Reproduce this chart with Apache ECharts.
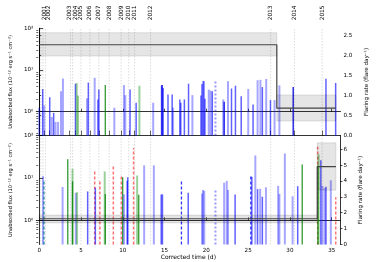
<!DOCTYPE html>
<html><head><meta charset="utf-8">
<script src="https://cdn.jsdelivr.net/npm/echarts@6/dist/echarts.min.js"></script>
<style>html,body{margin:0;padding:0;background:#fff}#c{width:381px;height:262px}</style>
</head><body><div id="c"></div>
<script>
// ---------- data ----------
const yearLabels = ['2000','2001','2002','2003','2004','2005','2006','2007','2008','2009','2010','2011','2012','2013','2014','2015'];
const yearLabelTimes = [0.11,0.61,1.15,3.65,4.34,4.99,6.07,7.14,8.37,9.80,10.72,11.41,13.33,27.70,30.55,33.85];
const yearLineTimes = [0.19,0.45,0.75,3.75,4.0,4.99,6.07,7.14,8.37,9.80,10.72,11.41,13.33,27.70,30.55,33.85];

const topTime = [0.00,0.42,0.61,1.26,1.50,1.73,1.96,2.26,2.61,2.84,4.34,4.49,4.65,5.72,5.88,6.64,7.03,7.14,7.91,8.99,10.14,10.30,10.87,11.60,11.99,13.64,14.64,14.71,14.83,15.41,15.91,16.02,16.83,16.94,17.37,17.87,18.33,19.36,19.48,19.60,19.71,19.83,20.29,20.52,20.71,21.09,22.02,22.13,22.59,23.01,23.48,24.17,25.01,25.59,26.13,26.47,26.70,27.16,27.67,28.16,28.74,30.39,34.31,35.47];
const topFlux = [1.25,3.5,1.42,2.23,0.75,0.94,0.57,0.57,3.1,6.25,4.7,4.85,2.44,2.1,5.0,6.5,1.97,3.4,4.35,1.25,4.35,2.5,3.4,1.64,4.2,1.64,4.28,4.4,3.7,2.6,2.6,1.25,1.97,1.64,1.97,4.7,2.5,2.44,4.6,5.5,5.4,2.04,3.4,3.2,3.1,5.8,1.97,1.73,5.4,3.6,4.2,2.36,3.5,1.5,5.7,5.8,3.9,6.1,1.9,1.9,4.3,3.9,6.2,4.9];
const topStyle = ['l','m','l','m','l','m','l','l','l','l','m','g','g','l','m','l','m','m','G','l','l','l','m','m','g','l','m','d','m','m','m','l','m','m','m','m','l','m','m','l','m','m','l','l','m','lbd','l','d','l','m','m','m','l','m','l','l','m','l','m','l','l','d','m','m'];

const botTime = [0.46,0.57,2.80,3.42,3.99,3.99,4.38,4.53,5.80,6.64,6.72,7.26,7.84,7.91,8.87,9.83,9.99,10.14,10.53,10.60,11.29,11.72,11.91,12.56,13.72,14.60,14.75,17.02,17.83,19.48,19.60,19.75,21.09,22.13,22.44,22.59,23.44,25.32,25.44,25.86,26.13,26.44,26.70,27.13,28.59,28.74,29.39,30.32,30.93,31.47,33.32,33.35,33.43,33.70,33.89,34.16,34.31,34.89,35.48];
const botFlux = [11,9.1,6.1,27.5,16.4,8.3,4.45,4.6,4.8,14.7,5.9,8.8,14.2,4.2,19.8,11.2,10.4,4.1,8.6,10.4,50.6,11.4,4.0,19.8,19.8,4.05,4.1,8.5,4.45,4.3,5.2,4.96,5.65,7.7,8.5,5.2,4.05,12.0,10.6,33.8,5.45,5.55,3.6,6.0,6.5,4.2,37.7,3.7,6.4,20.8,54,19.7,36,26,6.5,5.8,6.2,8.8,3.5];
const botStyle = ['l','td','l','G','g','G','l','g','m','r','m','r','g','G','r','r','G','l','m','m','r','g','G','l','l','m','m','bd','m','l','l','l','lbd','l','l','l','m','bd','m','l','m','l','m','l','l','l','l','l','m','G','r','G','g','m','l','l','m','l','r'];

const topRateTime = [0, 28.43, 28.43, 35.5];
const topRate = [2.26, 2.26, 0.68, 0.68];
const topBandStart = [0, 28.43], topBandEnd = [28.43, 35.5];
const topBandLow = [1.98, 0.36], topBandHigh = [2.56, 1.01];

const botRateTime = [0, 33.27, 33.27, 35.5];
const botRate = [1.62, 1.62, 4.9, 4.9];
const botBandStart = [0, 33.27], botBandEnd = [33.27, 35.5];
const botBandLow = [1.36, 3.42], botBandHigh = [1.85, 6.4];

const timeTicks = [0,5,10,15,20,25,30,35];
const fluxTickExp = [0,1,2];
const fluxTickLabels = ['10\u2070','10\u00b9','10\u00b2'];
const topRateTicks = [0,0.5,1.0,1.5,2.0,2.5];
const botRateTicks = [0,1,2,3,4,5,6];

// ---------- config ----------
const X_MIN = -0.35, X_MAX = 36.05;
const LOG_MIN = -0.57, LOG_MAX = 2.0;
const FONT = 'DejaVu Sans';
const STYLES = {
  l:{stroke:'rgba(0,0,255,0.35)',lineWidth:2},
  m:{stroke:'rgba(0,0,255,0.62)',lineWidth:1.5},
  d:{stroke:'rgba(0,0,230,0.95)',lineWidth:1.3},
  g:{stroke:'rgba(0,140,0,0.4)',lineWidth:2},
  G:{stroke:'rgba(0,128,0,0.8)',lineWidth:1.3},
  r:{stroke:'rgba(255,0,0,0.55)',lineWidth:1.5,lineDash:[3,2]},
  bd:{stroke:'rgba(0,0,255,0.8)',lineWidth:1.3,lineDash:[3,2]},
  lbd:{stroke:'rgba(0,0,255,0.4)',lineWidth:2,lineDash:[2,2]},
  td:{stroke:'rgba(0,120,150,0.85)',lineWidth:1.3,lineDash:[3,2]}
};
const minorLog = [];
[-1,0,1].forEach(k=>{for(let m=2;m<=9;m++){const v=k+Math.log10(m); if(v>LOG_MIN&&v<LOG_MAX) minorLog.push(v);}});

function fluxRender(styles){
  return function(params, api){
    const x = api.value(0), v = api.value(1);
    const p0 = api.coord([x, LOG_MIN]);
    const p1 = api.coord([x, v]);
    return {type:'line', shape:{x1:p0[0],y1:p0[1],x2:p1[0],y2:p1[1]},
      style:Object.assign({fill:null}, STYLES[styles[params.dataIndex]])};
  };
}
function yearRender(params, api){
  const x = api.value(0);
  const p0 = api.coord([x, LOG_MIN]), p1 = api.coord([x, LOG_MAX]);
  return {type:'line', shape:{x1:p0[0],y1:p0[1],x2:p1[0],y2:p1[1]},
    style:{stroke:'rgba(0,0,0,0.18)',lineWidth:0.8,lineDash:[1.5,1.5],fill:null}};
}
function bandRender(params, api){
  const a = api.coord([api.value(0), api.value(3)]);
  const b = api.coord([api.value(1), api.value(2)]);
  return {type:'rect', shape:{x:a[0],y:a[1],width:b[0]-a[0],height:b[1]-a[1]},
    style:{fill:'rgba(0,0,0,0.1)',stroke:'rgba(0,0,0,0.18)',lineWidth:0.6}};
}
const axisLine = {show:true, lineStyle:{color:'#000', width:0.8}};
const lbl = {fontFamily:FONT, fontSize:5.6, color:'#000'};
const nameStyle = {fontFamily:FONT, fontSize:5.6, color:'#000'};

function fluxAxis(grid){
  return {type:'value', gridIndex:grid, position:'left', min:LOG_MIN, max:LOG_MAX,
    axisLine, splitLine:{show:false},
    axisTick:{show:true, inside:true, length:4, customValues:fluxTickExp, lineStyle:{color:'#000',width:0.7}},
    axisLabel:Object.assign({show:true, margin:3, customValues:fluxTickExp,
      formatter:v=>fluxTickLabels[fluxTickExp.indexOf(Math.round(v))]}, lbl),
    name:'Unabsorbed flux (10\u207b\u00b9\u00b2 erg s\u207b\u00b9 cm\u207b\u00b2)', nameLocation:'middle', nameGap:14.5, nameRotate:90,
    nameTextStyle:Object.assign({}, nameStyle, {fontSize:5.1})};
}
function minorAxis(grid){
  return {type:'value', gridIndex:grid, position:'left', min:LOG_MIN, max:LOG_MAX,
    axisLine:{show:false}, splitLine:{show:false}, axisLabel:{show:false},
    axisTick:{show:true, inside:true, length:2, customValues:minorLog, lineStyle:{color:'#000',width:0.6}}};
}
function rateAxis(grid, max, ticks, fmt){
  return {type:'value', gridIndex:grid, position:'right', min:0, max:max,
    axisLine, splitLine:{show:false},
    axisTick:{show:true, inside:false, length:2, customValues:ticks, lineStyle:{color:'#000',width:0.7}},
    axisLabel:Object.assign({show:true, margin:3, customValues:ticks, formatter:fmt}, lbl),
    name:'Flaring rate (flare day\u207b\u00b9)', nameLocation:'middle', nameGap:15, nameRotate:90,
    nameTextStyle:nameStyle};
}

const option = {
  animation:false,
  backgroundColor:'#fff',
  grid:[
    {left:24, right:40.5, top:28.3, height:107.2},
    {left:24, right:40.5, top:135.5, height:109}
  ],
  xAxis:[
    {type:'value', gridIndex:0, position:'bottom', min:X_MIN, max:X_MAX, axisLine, splitLine:{show:false},
      axisTick:{show:true, inside:true, length:3, customValues:timeTicks, lineStyle:{color:'#000',width:0.7}},
      axisLabel:{show:false}},
    {type:'value', gridIndex:0, position:'top', min:X_MIN, max:X_MAX, axisLine, splitLine:{show:false},
      axisTick:{show:true, inside:false, length:5, customValues:yearLabelTimes, lineStyle:{color:'#000',width:0.6}},
      axisLabel:Object.assign({show:true, rotate:90, margin:8, customValues:yearLabelTimes,
        formatter:v=>{let bi=0,bd=1e9; yearLabelTimes.forEach((t,i)=>{const d=Math.abs(t-v); if(d<bd){bd=d;bi=i;}}); return yearLabels[bi];}}, lbl, {fontSize:5.8})},
    {type:'value', gridIndex:1, position:'bottom', min:X_MIN, max:X_MAX, axisLine, splitLine:{show:false},
      axisTick:{show:true, inside:true, length:3, customValues:timeTicks, lineStyle:{color:'#000',width:0.7}},
      axisLabel:Object.assign({show:true, margin:3, customValues:timeTicks}, lbl),
      name:'Corrected time (d)', nameLocation:'middle', nameGap:9.5, nameTextStyle:Object.assign({}, nameStyle, {fontSize:6})}
  ],
  yAxis:[
    fluxAxis(0),
    rateAxis(0, 2.67, topRateTicks, v=>v.toFixed(1)),
    minorAxis(0),
    fluxAxis(1),
    rateAxis(1, 6.86, botRateTicks, v=>String(Math.round(v))),
    minorAxis(1)
  ],
  series:[
    {type:'custom', xAxisIndex:0, yAxisIndex:0, z:1, renderItem:yearRender, data:yearLineTimes.map(t=>[t]), silent:true},
    {type:'custom', xAxisIndex:2, yAxisIndex:3, z:1, renderItem:yearRender, data:yearLineTimes.map(t=>[t]), silent:true},
    {type:'custom', xAxisIndex:0, yAxisIndex:0, z:2, renderItem:fluxRender(topStyle),
      data:topTime.map((t,i)=>[t, Math.log10(topFlux[i])]), encode:{x:0,y:1}},
    {type:'custom', xAxisIndex:2, yAxisIndex:3, z:2, renderItem:fluxRender(botStyle),
      data:botTime.map((t,i)=>[t, Math.log10(botFlux[i])]), encode:{x:0,y:1}},
    {type:'custom', xAxisIndex:0, yAxisIndex:1, z:3, renderItem:bandRender,
      data:topBandStart.map((s,i)=>[s, topBandEnd[i], topBandLow[i], topBandHigh[i]]), encode:{x:[0,1],y:[2,3]}},
    {type:'custom', xAxisIndex:2, yAxisIndex:4, z:3, renderItem:bandRender,
      data:botBandStart.map((s,i)=>[s, botBandEnd[i], botBandLow[i], botBandHigh[i]]), encode:{x:[0,1],y:[2,3]}},
    {type:'line', xAxisIndex:0, yAxisIndex:1, z:4, showSymbol:false, symbol:'none',
      data:topRateTime.map((t,i)=>[t, topRate[i]]), lineStyle:{color:'#444', width:1.2}},
    {type:'line', xAxisIndex:2, yAxisIndex:4, z:4, showSymbol:false, symbol:'none',
      data:botRateTime.map((t,i)=>[t, botRate[i]]), lineStyle:{color:'#444', width:1.2}}
  ]
};
const chart = echarts.init(document.getElementById('c'), null, {renderer:'canvas'});
chart.setOption(option);
</script>
</body></html>
